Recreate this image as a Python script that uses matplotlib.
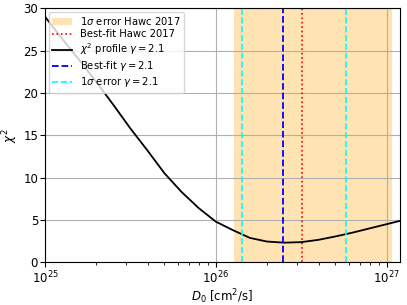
import matplotlib
matplotlib.use('Agg')
import matplotlib.pyplot as plt
import numpy as np

# chi2 profile (log10 of D0, chi2)
logD = [25.0, 25.1, 25.2, 25.3, 25.4, 25.5, 25.6, 25.7, 25.8, 25.9,
        26.0, 26.1, 26.2, 26.3, 26.4, 26.5, 26.6, 26.7, 26.8, 26.9,
        27.0, 27.08]
chi2 = [29.0, 26.4, 23.9, 21.3, 18.6, 15.8, 13.2, 10.5, 8.3, 6.4,
        4.8, 3.8, 2.88, 2.45, 2.32, 2.38, 2.65, 3.05, 3.5, 4.0,
        4.5, 4.9]

hawc_band = (1.28e26, 1.07e27)
hawc_best = 3.18e26
best_fit = 2.48e26
err_low, err_high = 1.42e26, 5.8e26

D = 10.0 ** np.array(logD)

fig = plt.figure(figsize=(4.07, 3.05), dpi=100)
ax = fig.add_axes([0.1106, 0.14, 0.8724, 0.833])

ax.axvspan(hawc_band[0], hawc_band[1], color='orange', alpha=0.3, lw=0,
           label=r'1$\sigma$ error Hawc 2017')
ax.axvline(hawc_best, color='red', ls=':', lw=1.2, label='Best-fit Hawc 2017')
ax.plot(D, chi2, color='black', lw=1.3, label=r'$\chi^2$ profile $\gamma=2.1$')
ax.axvline(best_fit, color='blue', ls='--', lw=1.3, label=r'Best-fit $\gamma=2.1$')
ax.axvline(err_low, color='cyan', ls='--', lw=1.2, label=r'1$\sigma$ error $\gamma=2.1$')
ax.axvline(err_high, color='cyan', ls='--', lw=1.2)

ax.set_xscale('log')
ax.set_xlim(1e25, 1.2e27)
ax.set_ylim(0, 30)
ax.grid(True, which='major', color='#b0b0b0', lw=0.8)
ax.tick_params(which='major', labelsize=8.5, length=3.5, width=0.8, pad=1.5)
ax.tick_params(which='minor', length=2.2, width=0.6)
ax.set_xlabel(r'$D_0$ [cm$^2$/s]', fontsize=8.5, labelpad=1)
ax.set_ylabel(r'$\chi^2$', fontsize=8.5, labelpad=2.5)
ax.legend(loc='upper left', fontsize=7.2, framealpha=0.8, borderaxespad=0.35,
          labelspacing=0.2, borderpad=0.35)

fig.savefig('out.png', dpi=100)
